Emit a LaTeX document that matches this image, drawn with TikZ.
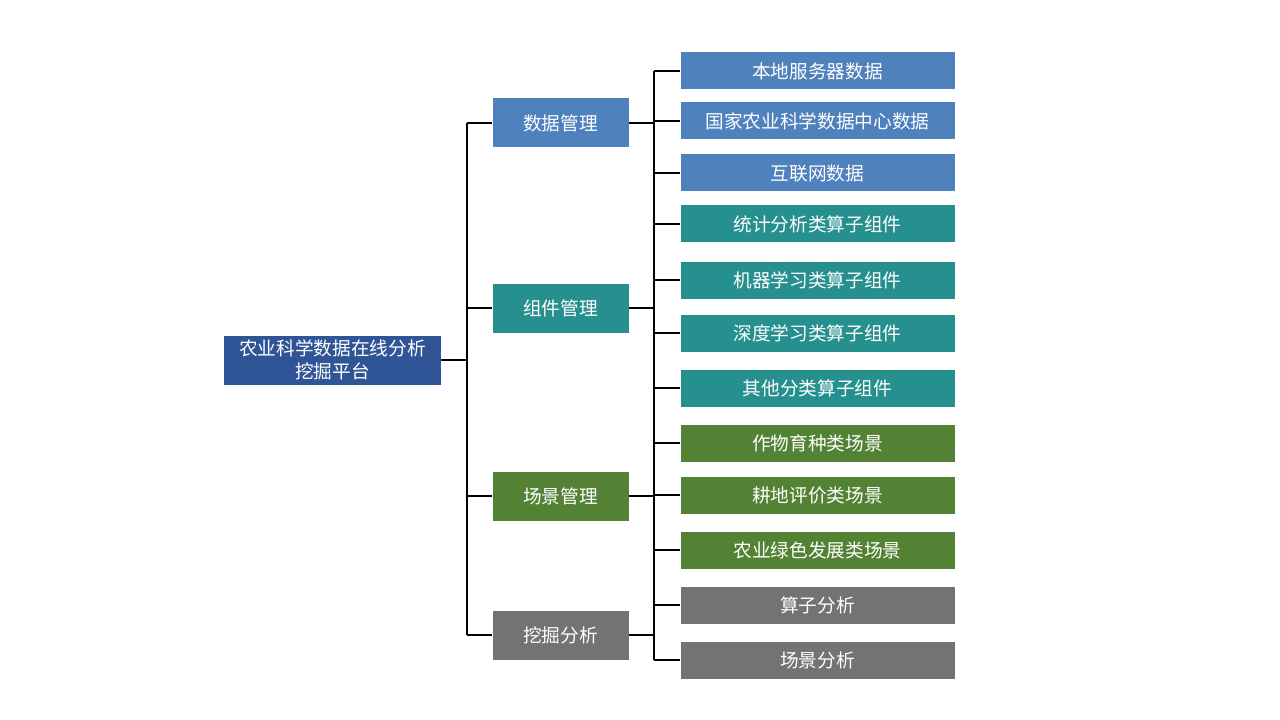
\documentclass[tikz,border=0pt]{standalone}
\usepackage{fontspec}
\setmainfont{Noto Sans CJK SC}
\usepackage{xcolor}
\definecolor{rootblue}{HTML}{2F5597}
\definecolor{datablue}{HTML}{4F81BD}
\definecolor{compteal}{HTML}{26908F}
\definecolor{scenegreen}{HTML}{548235}
\definecolor{minegray}{HTML}{737373}

\begin{document}
\begin{tikzpicture}[x=0.75pt,y=-0.75pt,
    box/.style={text=white,font=\fontsize{14}{17}\selectfont,inner sep=0pt,align=center},
    rootbox/.style={box,fill=rootblue,minimum width=162.75pt,minimum height=36.75pt},
    midbox/.style={box,minimum width=102pt,minimum height=36.75pt},
    leafbox/.style={box,minimum width=205.5pt,minimum height=27.75pt},
    link/.style={black,line width=1pt}]
    \useasboundingbox (0,0) rectangle (1280,720);
    % platform
    \node[rootbox] (root) at (332.5,360) {农业科学数据在线分析\\挖掘平台};
    % management blocks
    \node[midbox,fill=datablue] (data) at (560.5,123) {数据管理};
    \node[midbox,fill=compteal] (comp) at (560.5,308) {组件管理};
    \node[midbox,fill=scenegreen] (scene) at (560.5,496) {场景管理};
    \node[midbox,fill=minegray] (mine) at (560.5,635) {挖掘分析};
    % items
    \node[leafbox,fill=datablue] (local) at (817.5,71) {本地服务器数据};
    \node[leafbox,fill=datablue] (national) at (817.5,121) {国家农业科学数据中心数据};
    \node[leafbox,fill=datablue] (internet) at (817.5,173) {互联网数据};
    \node[leafbox,fill=compteal] (stat) at (817.5,224) {统计分析类算子组件};
    \node[leafbox,fill=compteal] (ml) at (817.5,280) {机器学习类算子组件};
    \node[leafbox,fill=compteal] (dl) at (817.5,333) {深度学习类算子组件};
    \node[leafbox,fill=compteal] (other) at (817.5,388) {其他分类算子组件};
    \node[leafbox,fill=scenegreen] (crop) at (817.5,443) {作物育种类场景};
    \node[leafbox,fill=scenegreen] (land) at (817.5,495) {耕地评价类场景};
    \node[leafbox,fill=scenegreen] (green) at (817.5,550) {农业绿色发展类场景};
    \node[leafbox,fill=minegray] (opana) at (817.5,605) {算子分析};
    \node[leafbox,fill=minegray] (sceneana) at (817.5,660) {场景分析};
    % connectors
    \coordinate (rootbus) at (467,0);
    \coordinate (midbus) at (654,0);
    \draw[link] (root.east) -- (root.east -| rootbus);
    \draw[link] (data.west -| rootbus) -- (mine.west -| rootbus);
    \foreach \n in {data,comp,scene,mine}
        \draw[link] (\n.west -| rootbus) -- (\n.west);
    \foreach \n in {data,comp,scene,mine}
        \draw[link] (\n.east) -- (\n.east -| midbus);
    \draw[link] (local.west -| midbus) -- (sceneana.west -| midbus);
    \foreach \n in {local,national,internet,stat,ml,dl,other,crop,land,green,opana,sceneana}
        \draw[link] (\n.west -| midbus) -- (\n.west);
\end{tikzpicture}
\end{document}
